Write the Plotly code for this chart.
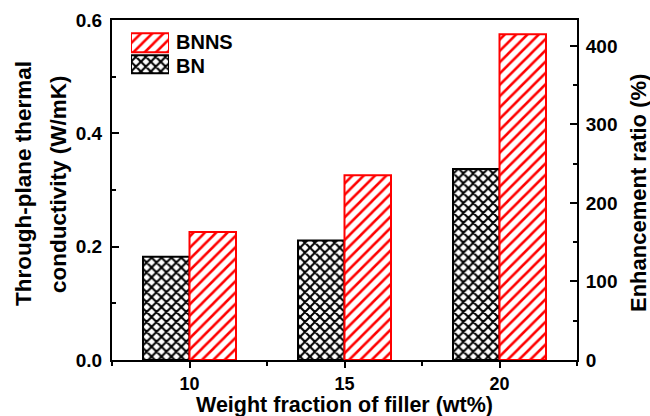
import plotly.graph_objects as go

categories = [10, 15, 20]
bn_values = [0.182, 0.211, 0.337]
bnns_values = [0.226, 0.326, 0.575]
series_names = ["BN", "BNNS"]
x_ticks = [10, 15, 20]
y_ticks = [0.0, 0.2, 0.4, 0.6]
y2_ticks = [0, 100, 200, 300, 400]

FONT = "Liberation Sans, Arial, sans-serif"
BN_STYLE = dict(color="white", line=dict(color="black", width=2),
                pattern=dict(shape="x", fgcolor="black", bgcolor="white",
                             fgopacity=1, fillmode="replace",
                             size=7, solidity=0.5))
BNNS_STYLE = dict(color="white", line=dict(color="#ff0000", width=2),
                  pattern=dict(shape="/", fgcolor="#ff0000", bgcolor="white",
                               fgopacity=1, fillmode="replace",
                               size=8, solidity=0.32))

fig = go.Figure()
fig.add_trace(go.Bar(x=categories, y=bn_values, name=series_names[0],
                     width=1.5, offset=-1.5, marker=BN_STYLE, showlegend=False))
fig.add_trace(go.Bar(x=categories, y=bnns_values, name=series_names[1],
                     width=1.5, offset=0, marker=BNNS_STYLE, showlegend=False))
fig.add_trace(go.Scatter(x=[None], y=[None], yaxis="y2", showlegend=False,
                         hoverinfo="skip"))

# legend swatches (drawn as small bars on an inset axis)
fig.add_trace(go.Bar(x=[1], y=[1], orientation="h", xaxis="x3", yaxis="y3",
                     width=0.88, marker=BNNS_STYLE, showlegend=False, hoverinfo="skip"))
fig.add_trace(go.Bar(x=[1], y=[0], orientation="h", xaxis="x3", yaxis="y3",
                     width=0.84, marker=BN_STYLE, showlegend=False, hoverinfo="skip"))

PL, PR, PT, PB = 112, 577, 20, 360
W, H = PR - PL, PB - PT
def px(x): return (x - PL) / W
def py(y): return (PB - y) / H

tickfont = dict(family=FONT, size=19, color="black", weight="bold")
fig.update_layout(
    width=650, height=416,
    margin=dict(l=PL, r=650 - PR, t=PT, b=416 - PB),
    paper_bgcolor="white", plot_bgcolor="white",
    barmode="overlay",
    font=dict(family=FONT, color="black"),
    showlegend=False,
    xaxis=dict(range=[7.5, 22.5], tickvals=x_ticks,
               ticktext=[str(v) for v in x_ticks], automargin=False,
               showline=True, linecolor="black", linewidth=2, mirror=True,
               ticks="outside", ticklen=6, tickwidth=2, tickcolor="black",
               minor=dict(ticks="outside", ticklen=4, tickwidth=2,
                          dtick=2.5, tick0=7.5, tickcolor="black"),
               showgrid=False, zeroline=False, ticklabelstandoff=0,
               tickfont=dict(family=FONT, size=18, color="black", weight="bold")),
    yaxis=dict(range=[0, 0.6], tickvals=y_ticks, tickformat=".1f", automargin=False,
               showline=True, linecolor="black", linewidth=2,
               ticks="inside", ticklen=7, tickwidth=2, tickcolor="black",
               minor=dict(ticks="inside", ticklen=4, tickwidth=2, dtick=0.1,
                          tickcolor="black"),
               showgrid=False, zeroline=False, tickfont=tickfont,
               ticklabelstandoff=4),
    yaxis2=dict(range=[0, 433], tickvals=y2_ticks, overlaying="y", side="right",
                automargin=False,
                showline=True, linecolor="black", linewidth=2,
                ticks="inside", ticklen=7, tickwidth=2, tickcolor="black",
                minor=dict(ticks="inside", ticklen=4, tickwidth=2, dtick=50,
                           tickcolor="black"),
                showgrid=False, zeroline=False, tickfont=tickfont,
                ticklabelstandoff=3),
    xaxis3=dict(domain=[px(131), px(169)], range=[0, 1], anchor="y3",
                visible=False, fixedrange=True),
    yaxis3=dict(domain=[py(75), py(32)], range=[-0.5, 1.5], anchor="x3",
                visible=False, fixedrange=True),
)

fig.add_annotation(text="Weight fraction of filler (wt%)", xref="paper", yref="paper",
                   x=0.5, y=py(405), xanchor="center", yanchor="middle",
                   showarrow=False, borderpad=0,
                   font=dict(family=FONT, size=21.5, color="black", weight="bold"))

fig.add_annotation(text="Enhancement ratio (%)", xref="paper", yref="paper",
                   x=px(638), y=py(193), xanchor="center", yanchor="middle",
                   textangle=-90, showarrow=False, borderpad=0,
                   font=dict(family=FONT, size=22, color="black", weight="bold"))

for name, yc in [(series_names[1], 41.5), (series_names[0], 66)]:
    fig.add_annotation(text=name, xref="paper", yref="paper", x=px(174), y=py(yc),
                       xanchor="left", yanchor="middle", showarrow=False,
                       font=dict(family=FONT, size=20, color="black", weight="bold"))

for txt, xpx in [("Through-plane thermal", 24), ("conductivity (W/mK)", 59)]:
    fig.add_annotation(text=txt, xref="paper", yref="paper",
                       x=px(xpx), y=py(184), xanchor="center", yanchor="middle",
                       textangle=-90, showarrow=False,
                       font=dict(family=FONT, size=22.5, color="black", weight="bold"))

fig.write_html("out.html")
